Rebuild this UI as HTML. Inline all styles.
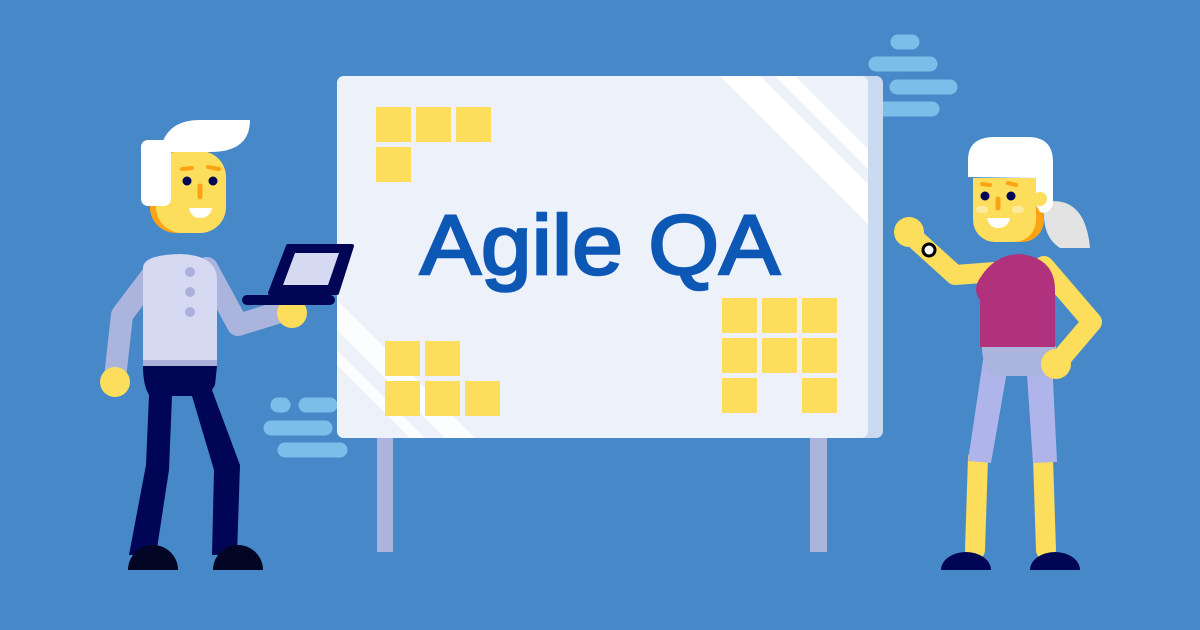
<!DOCTYPE html>
<html><head><style>body{margin:0;background:#4789c8}svg{display:block}</style></head><body>
<svg width="1200" height="630" viewBox="0 0 1200 630" xmlns="http://www.w3.org/2000/svg">
<rect width="1200" height="630" fill="#4789c8"/>
<!-- dashes -->
<g stroke="#7cbde9" stroke-width="15" stroke-linecap="round">
<line x1="898" y1="42" x2="912" y2="42"/><line x1="876" y1="64" x2="930" y2="64"/>
<line x1="897" y1="87" x2="950" y2="87"/><line x1="876" y1="109" x2="932" y2="109"/>
<line x1="278" y1="405" x2="283" y2="405"/><line x1="306" y1="405" x2="330" y2="405"/>
<line x1="271" y1="428" x2="325" y2="428"/><line x1="285" y1="450" x2="340" y2="450"/>
</g>
<!-- board legs -->
<rect x="377" y="430" width="16" height="122" fill="#aab4dd"/>
<rect x="810" y="430" width="17" height="122" fill="#aab4dd"/>
<!-- board -->
<rect x="337" y="76" width="546" height="362" rx="7" fill="#c9d9ef"/>
<rect x="337" y="76" width="531" height="362" rx="7" fill="#edf2fa"/>
<polygon points="720,76 760,76 868,184 868,224" fill="#fff"/>
<polygon points="775,76 795,76 868,149 868,169" fill="#fff"/>
<polygon points="337,300 337,330 445,438 475,438" fill="#fff" opacity="0.8"/>
<polygon points="337,350 337,365 410,438 425,438" fill="#fff" opacity="0.8"/>
<text x="420" y="274" textLength="360" lengthAdjust="spacingAndGlyphs" font-family="Liberation Sans, sans-serif" font-size="84" fill="#0d57b5" stroke="#0d57b5" stroke-width="2.5">Agile QA</text>
<g fill="#fcde5c">
<rect x="376" y="107" width="35" height="35"/><rect x="416" y="107" width="35" height="35"/><rect x="456" y="107" width="35" height="35"/><rect x="376" y="147" width="35" height="35"/>
<rect x="385" y="341" width="35" height="35"/><rect x="425" y="341" width="35" height="35"/>
<rect x="385" y="381" width="35" height="35"/><rect x="425" y="381" width="35" height="35"/><rect x="465" y="381" width="35" height="35"/>
<rect x="722" y="298" width="35" height="35"/><rect x="762" y="298" width="35" height="35"/><rect x="802" y="298" width="35" height="35"/>
<rect x="722" y="338" width="35" height="35"/><rect x="762" y="338" width="35" height="35"/><rect x="802" y="338" width="35" height="35"/>
<rect x="722" y="378" width="35" height="35"/><rect x="802" y="378" width="35" height="35"/>
</g>
<!-- MAN -->
<g stroke-linecap="round" stroke-linejoin="round" fill="none">
<polyline points="156,270 122,315 115,378" stroke="#aab4dd" stroke-width="22"/>
<polyline points="207,268 238,325 280,312" stroke="#aab4dd" stroke-width="22"/>
</g>
<circle cx="115" cy="382" r="15" fill="#fcde5c"/>
<path d="M143,268 Q143,255 180,254 Q217,255 217,280 L217,366 L143,366Z" fill="#d6d9f2"/>
<rect x="143" y="360" width="74" height="6" fill="#aab0da"/>
<circle cx="190" cy="272" r="5" fill="#aab0da"/><circle cx="190" cy="292" r="5" fill="#aab0da"/><circle cx="190" cy="312" r="5" fill="#aab0da"/>
<path d="M143,366 L217,366 L215,385 L212,390 L240,465 L237,555 L212,555 L214,470 L192,396 L172,396 L169,470 L156,555 L129,555 L146,465 L149,395 Q143,385 143,366Z" fill="#000555"/>
<path d="M128,570 A25,25 0 0 1 178,570Z" fill="#020624"/>
<path d="M213,570 A25,25 0 0 1 263,570Z" fill="#020624"/>
<circle cx="292" cy="313" r="15" fill="#fcde5c"/>
<polygon points="288,246 352,246 337,293 270,293" fill="#000555" stroke="#000555" stroke-width="4" stroke-linejoin="round"/>
<polygon points="295,253 339,253 328,285 283,285" fill="#d6d9f2"/>
<line x1="247" y1="300" x2="330" y2="300" stroke="#000555" stroke-width="10" stroke-linecap="round"/>
<rect x="150" y="151" width="70" height="82" rx="26" fill="#fda212"/>
<rect x="156" y="151" width="70" height="82" rx="26" fill="#fcde5c"/>
<path d="M160,152 Q165,120 200,120 L250,120 Q250,152 210,152Z" fill="#fff"/>
<rect x="141" y="140" width="30" height="66" rx="7" fill="#fff"/>
<circle cx="187" cy="181" r="4.5" fill="#000555"/><circle cx="213" cy="181" r="4.5" fill="#000555"/>
<line x1="182" y1="169" x2="192" y2="168" stroke="#fda212" stroke-width="4" stroke-linecap="round"/>
<line x1="208" y1="167" x2="219" y2="169" stroke="#fda212" stroke-width="4" stroke-linecap="round"/>
<line x1="200" y1="186" x2="200" y2="197" stroke="#fda212" stroke-width="5" stroke-linecap="round"/>
<path d="M189,208 L212,208 Q210,218 200,218 Q191,218 189,208Z" fill="#fff"/>
<!-- WOMAN -->
<path d="M1045,202 Q1085,195 1090,248 L1060,248 Q1040,235 1045,202Z" fill="#e3e3e3"/>
<g stroke-linecap="round" stroke-linejoin="round" fill="none" stroke="#fcde5c" stroke-width="20">
<polyline points="912,236 955,275 995,272"/>
<polyline points="1044,266 1092,322 1058,362"/>
<line x1="978" y1="458" x2="975" y2="550"/><line x1="1043" y1="458" x2="1046" y2="550"/>
</g>
<circle cx="909" cy="232" r="15" fill="#fcde5c"/>
<circle cx="929" cy="250" r="6" fill="#fff" stroke="#000" stroke-width="3"/>
<path d="M941,570 A25,18 0 0 1 991,570Z" fill="#000555"/>
<path d="M1030,570 A25,18 0 0 1 1080,570Z" fill="#000555"/>
<polygon points="983,360 1009,360 991,463 968,461" fill="#afb4ea"/>
<polygon points="1026,360 1052,360 1057,462 1033,463" fill="#afb4ea"/>
<path d="M982,346 L1056,346 L1055,365 Q1052,376 1035,376 L1000,376 Q982,374 982,346Z" fill="#aab4dd"/>
<path d="M980,347 L980,300 Q972,290 980,278 Q995,254 1020,254 Q1055,258 1055,290 L1055,347Z" fill="#b0327c"/>
<circle cx="1056" cy="364" r="15" fill="#fcde5c"/>
<rect x="977" y="178" width="67" height="64" rx="22" fill="#fda212"/>
<rect x="973" y="178" width="63" height="64" rx="22" fill="#fcde5c"/>
<rect x="973" y="178" width="63" height="25" fill="#fcde5c"/>
<path d="M968,177 L968,160 Q968,137 995,137 L1028,137 Q1053,137 1053,162 L1053,205 Q1048,215 1040,212 L1036,205 L1036,178 Z" fill="#fff"/>
<circle cx="1040" cy="199" r="7" fill="#fcde5c"/>
<circle cx="985" cy="196" r="4.5" fill="#000555"/><circle cx="1011" cy="196" r="4.5" fill="#000555"/>
<line x1="982" y1="184" x2="990" y2="185" stroke="#fda212" stroke-width="4" stroke-linecap="round"/>
<line x1="1008" y1="183" x2="1016" y2="185" stroke="#fda212" stroke-width="4" stroke-linecap="round"/>
<line x1="998" y1="199" x2="998" y2="208" stroke="#fda212" stroke-width="5" stroke-linecap="round"/>
<rect x="976" y="206" width="12" height="7" rx="3.5" fill="#fde9a0"/><rect x="1012" y="206" width="12" height="7" rx="3.5" fill="#fde9a0"/>
<path d="M987,218 L1010,218 Q1008,228 998,228 Q989,228 987,218Z" fill="#fff"/>
</svg>
</body></html>
